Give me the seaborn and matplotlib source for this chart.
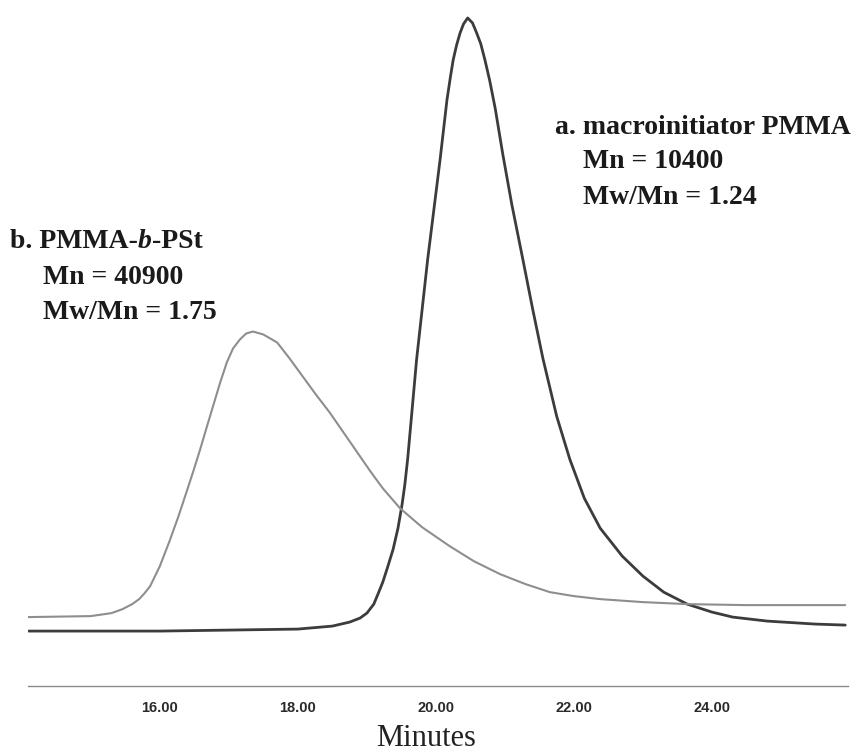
import matplotlib
matplotlib.use("Agg")
import matplotlib.pyplot as plt
from matplotlib.ticker import FixedLocator, FuncFormatter, MultipleLocator
import seaborn as sns
import pandas as pd
import numpy as np

# ---- data (minutes, detector signal, arbitrary units) ----
a_minutes = [14.10, 15.00, 16.00, 17.00, 18.00, 18.50, 18.75, 18.90, 19.00, 19.10,
             19.16, 19.23, 19.30, 19.38, 19.45, 19.51, 19.55, 19.59, 19.65, 19.72,
             19.80, 19.88, 19.97, 20.06, 20.11, 20.16, 20.21, 20.25, 20.30, 20.35,
             20.40, 20.46, 20.53, 20.59, 20.65, 20.71, 20.78, 20.86, 20.97, 21.10,
             21.26, 21.40, 21.55, 21.75, 21.94, 22.15, 22.38, 22.70, 23.00, 23.30,
             23.64, 24.00, 24.30, 24.80, 25.50, 25.93]
a_signal = [55, 55, 55, 56, 57, 60, 64, 68, 73, 82,
            92, 104, 119, 137, 158, 182, 202, 227, 273, 327,
            377, 427, 477, 527, 557, 587, 610, 627, 642, 654,
            663, 669, 664, 654, 643, 627, 606, 578, 532, 482,
            427, 378, 328, 270, 227, 188, 158, 130, 110, 94,
            82, 74, 69, 65, 62, 61]

b_minutes = [14.09, 15.00, 15.30, 15.46, 15.60, 15.70, 15.78, 15.86, 16.00, 16.14,
             16.27, 16.39, 16.48, 16.58, 16.67, 16.77, 16.87, 16.97, 17.06, 17.16,
             17.25, 17.35, 17.50, 17.70, 17.88, 18.07, 18.26, 18.46, 18.66, 18.86,
             19.05, 19.23, 19.48, 19.80, 20.20, 20.55, 20.93, 21.30, 21.65, 22.00,
             22.38, 23.00, 23.64, 24.50, 25.93]
b_signal = [69, 70, 73, 77, 82, 87, 93, 100, 120, 145,
            170, 195, 214, 236, 257, 280, 303, 324, 338, 347,
            353, 355, 352, 344, 328, 310, 292, 274, 254, 234,
            215, 198, 178, 159, 140, 125, 112, 102, 94, 90,
            87, 84, 82, 81, 81]

tick_values = [16, 18, 20, 22, 24]
x_label = "Minutes"
label_a = ["a. macroinitiator PMMA", "Mn = 10400", "Mw/Mn = 1.24"]
label_b_parts = ["b. PMMA-", "b", "-PSt"]
label_b = ["Mn = 40900", "Mw/Mn = 1.75"]

df = pd.concat([
    pd.DataFrame({"Minutes": a_minutes, "Signal": a_signal, "Sample": "a"}),
    pd.DataFrame({"Minutes": b_minutes, "Signal": b_signal, "Sample": "b"}),
])

sns.set_style("white")
plt.rcParams["font.family"] = ["Liberation Serif", "DejaVu Serif"]

W, H = 863, 753
fig = plt.figure(figsize=(W / 100, H / 100), dpi=100)
ax_left, ax_right, ax_axis_y = 28, 848, 686
ax = fig.add_axes([ax_left / W, (H - ax_axis_y) / H, (ax_right - ax_left) / W, ax_axis_y / H])

sns.lineplot(data=df, x="Minutes", y="Signal", hue="Sample",
             palette={"a": "#3c3c3c", "b": "#8e8e8e"}, ax=ax, legend=False,
             estimator=None, sort=False)
lines = ax.get_lines()
if len(lines) >= 2:
    lines[0].set_linewidth(2.0)
    lines[1].set_linewidth(1.5)
for ln in lines:
    ln.set_solid_joinstyle("round")

ax.set_xlim(14.09, 25.97)
ax.set_ylim(0, 687)

for s in ["top", "left", "right"]:
    ax.spines[s].set_visible(False)
ax.spines["bottom"].set_color("#8a8a8a")
ax.spines["bottom"].set_linewidth(1.0)
ax.set_yticks([])
ax.set_ylabel("")

majors = list(np.arange(14.5, 26.0, 0.5))
ax.xaxis.set_major_locator(FixedLocator(majors))
ax.xaxis.set_minor_locator(MultipleLocator(0.1))
ax.xaxis.set_major_formatter(FuncFormatter(
    lambda v, p: f"{v:.2f}" if any(abs(v - t) < 1e-6 for t in tick_values) else ""))
ax.tick_params(axis="x", which="major", length=3, width=0.8, color="#8a8a8a",
               pad=8, labelsize=10.5, labelcolor="#2a2a2a")
ax.tick_params(axis="x", which="minor", length=1.5, width=0.6, color="#aaaaaa")
for lab in ax.get_xticklabels():
    lab.set_family(["Liberation Sans", "DejaVu Sans"])
    lab.set_fontweight("bold")

ax.set_xlabel(x_label, fontsize=22, color="#222222")
ax.xaxis.set_label_coords((426 - ax_left) / (ax_right - ax_left), (ax_axis_y - 739) / ax_axis_y)
ax.xaxis.label.set_va("center")


def fx(px):
    return px / W


def fy(py):
    return 1 - py / H


txt_kw = dict(fontsize=20, fontweight="bold", color="#1a1a1a", va="center", ha="left")

# annotation a
fig.text(fx(555), fy(127), label_a[0], **txt_kw)
fig.text(fx(583), fy(162), label_a[1], **txt_kw)
fig.text(fx(583), fy(197), label_a[2], **txt_kw)

# annotation b (with italic "b")
t1 = fig.text(fx(10), fy(242), label_b_parts[0], **txt_kw)
t2 = ax.annotate(label_b_parts[1], xy=(1, 0), xycoords=t1, va="bottom", ha="left",
                 fontsize=20, fontweight="bold", fontstyle="italic", color="#1a1a1a",
                 annotation_clip=False)
t3 = ax.annotate(label_b_parts[2], xy=(1, 0), xycoords=t2, va="bottom", ha="left",
                 fontsize=20, fontweight="bold", color="#1a1a1a", annotation_clip=False)
fig.text(fx(43), fy(277), label_b[0], **txt_kw)
fig.text(fx(43), fy(312), label_b[1], **txt_kw)

fig.savefig("out.png", dpi=100)
